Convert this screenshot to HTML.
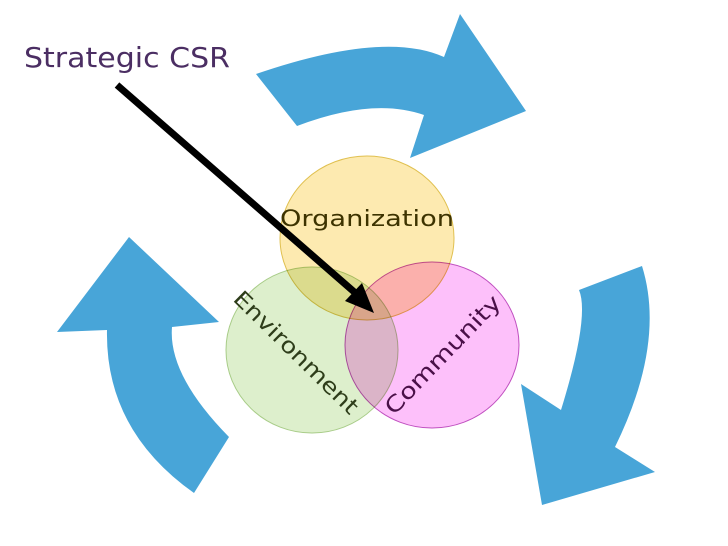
<!DOCTYPE html>
<html><head><meta charset="utf-8"><style>
html,body{margin:0;padding:0;background:#fff;}
svg{display:block;}
</style></head><body>
<svg width="728" height="546" viewBox="0 0 728 546" xmlns="http://www.w3.org/2000/svg">
<rect width="728" height="546" fill="#fff"/>
<g fill="#48a5d8">
<path d="M256,74 Q384,30 444,57 L460,14 L526,111 L410,158 L424,115 Q373,97 297,126 Z"/>
<path d="M129,237 L57,332 L107,330 Q105,430 194,493 L229,437 Q168,375 172,327 L219,322 Z"/>
<path d="M579,290 L642,266 Q666,343 615,447 L655,472 L542,505 L521,384 L561,410 Q590,316 579,290 Z"/>
</g>
<g style="isolation:isolate">
<ellipse cx="312" cy="350" rx="86" ry="83" fill="#ddefcc" stroke="#a8cc88" stroke-width="1" style="mix-blend-mode:multiply"/>
<ellipse cx="432" cy="345" rx="87" ry="83" fill="#fdc0fa" stroke="#c050c0" stroke-width="1" style="mix-blend-mode:multiply"/>
<ellipse cx="367" cy="238" rx="87" ry="82" fill="#fdeab0" stroke="#e0c050" stroke-width="1" style="mix-blend-mode:multiply"/>
</g>
<text x="367" y="226" text-anchor="middle" font-family="'DejaVu Sans', 'Liberation Sans', sans-serif" font-size="22" fill="#3d3300" textLength="174" lengthAdjust="spacingAndGlyphs">Organization</text>
<text transform="translate(232,300) rotate(44.5)" font-family="'DejaVu Sans', 'Liberation Sans', sans-serif" font-size="22" fill="#2e3d1a" textLength="165" lengthAdjust="spacingAndGlyphs">Environment</text>
<text transform="translate(394,416) rotate(-46)" font-family="'DejaVu Sans', 'Liberation Sans', sans-serif" font-size="22" fill="#4a1048" textLength="156" lengthAdjust="spacingAndGlyphs">Community</text>
<line x1="117" y1="85" x2="360" y2="297" stroke="#000" stroke-width="7"/>
<polygon points="374,313 345,301 362,283" fill="#000"/>
<text x="24" y="67" font-family="'DejaVu Sans', 'Liberation Sans', sans-serif" font-size="28" fill="#4b2e63" textLength="206" lengthAdjust="spacingAndGlyphs">Strategic CSR</text>
</svg>
</body></html>
